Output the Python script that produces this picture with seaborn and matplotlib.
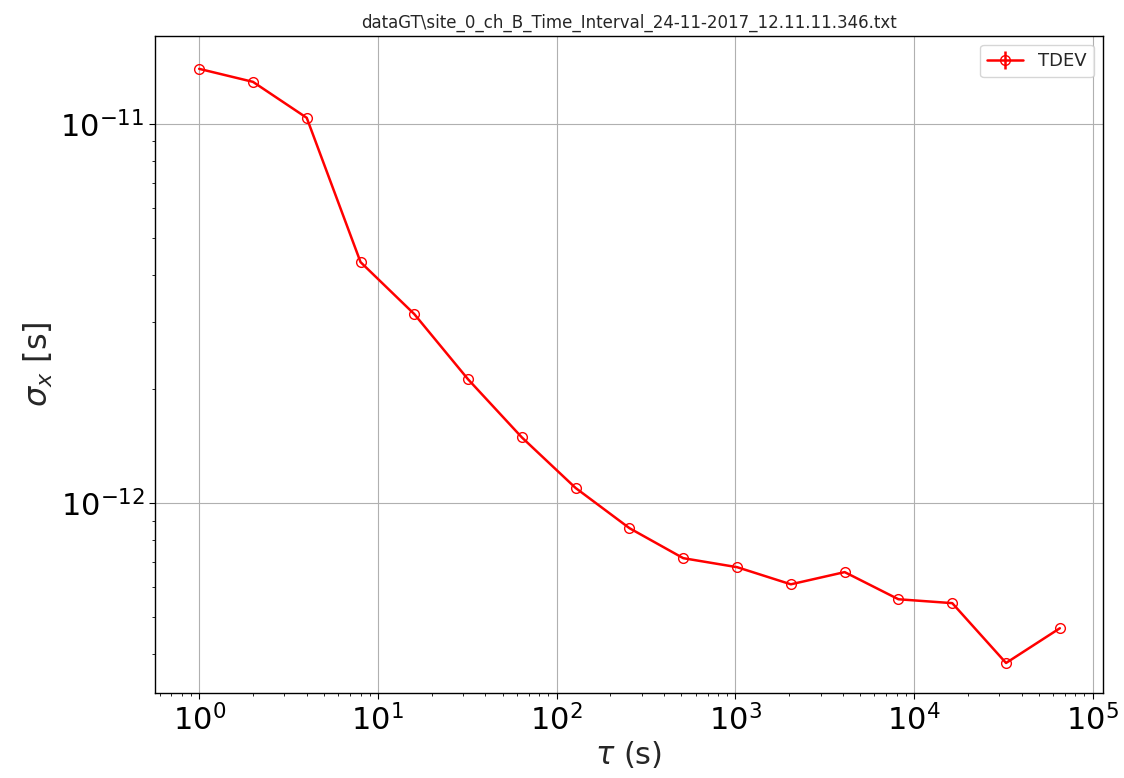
import numpy as np
import matplotlib
matplotlib.use("Agg")
import matplotlib.pyplot as plt
import matplotlib.ticker as mticker
import seaborn as sns

# TDEV values
tau = [1, 2, 4, 8, 16, 32, 64, 128, 256, 512, 1024, 2048, 4096, 8192, 16384, 32768, 65536]
tdev = [1.396e-11, 1.29e-11, 1.037e-11, 4.32e-12, 3.15e-12, 2.12e-12, 1.49e-12, 1.096e-12,
        8.59e-13, 7.16e-13, 6.78e-13, 6.11e-13, 6.58e-13, 5.58e-13, 5.45e-13, 3.79e-13, 4.68e-13]
tdev_err = [0.0] * len(tau)
xticks = [1e0, 1e1, 1e2, 1e3, 1e4, 1e5]
yticks = [1e-12, 1e-11]

sns.set_style("ticks")
plt.rcParams['font.family'] = ['DejaVu Sans']

fig = plt.figure(figsize=(11.24, 7.78), dpi=100)
ax = fig.add_axes([0.138, 0.109, 0.843, 0.845])

ax.errorbar(tau, tdev, yerr=tdev_err, fmt='o-', color='red', markerfacecolor='none',
            markersize=7, linewidth=1.8, label='TDEV')
ax.set_xscale('log')
ax.set_yscale('log')
ax.set_xticks(xticks)
ax.set_yticks(yticks)
ax.set_xlim(0.567, 10**5.056)
ax.set_ylim(10**-12.501, 10**-10.768)
ax.xaxis.set_minor_formatter(mticker.NullFormatter())
ax.yaxis.set_minor_formatter(mticker.NullFormatter())

ax.grid(True, which='major', color='#b0b0b0', linewidth=0.8)
for s in ax.spines.values():
    s.set_color('black')
    s.set_linewidth(1.0)
ax.tick_params(which='major', labelsize=22, length=4, width=0.8, colors='black')
ax.tick_params(which='minor', length=2.5, width=0.6, colors='black')

ax.set_xlabel(r'$\tau$ (s)', fontsize=22, labelpad=2)
ax.set_ylabel(r'$\sigma_x$ [s]', fontsize=23)
ax.set_title(r'dataGT\site_0_ch_B_Time_Interval_24-11-2017_12.11.11.346.txt', fontsize=12)
ax.legend(loc='upper right', fontsize=13)

fig.savefig('out.png', dpi=100)
